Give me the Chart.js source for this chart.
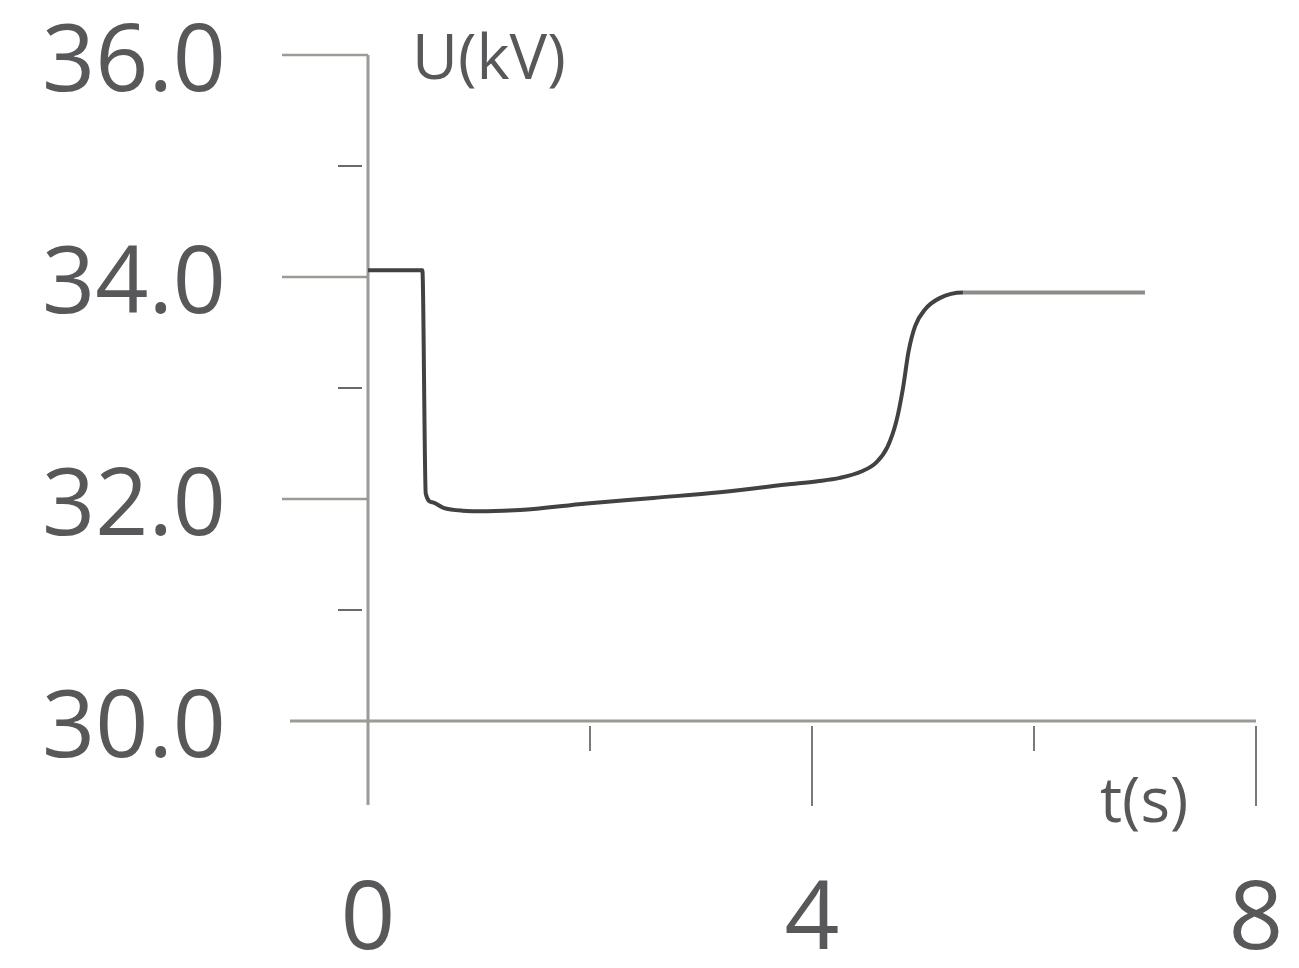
<!DOCTYPE html>
<html lang="en">
<head>
    <meta charset="UTF-8">
    <title>U(kV) vs t(s)</title>
    <script src="https://cdn.jsdelivr.net/npm/chart.js"></script>
    <style>
        html, body { margin: 0; padding: 0; background: #fff; }
        #wrap { width: 1299px; height: 968px; position: relative; }
    </style>
</head>
<body>
    <div id="wrap">
        <canvas id="voltageChart"></canvas>
    </div>

    <script>
        // Courbe : temps (s) et tension (kV)
        const timeValues = [0, 0.49, 0.52, 0.58, 0.68, 0.85, 1.07, 1.37, 1.97, 2.57, 3.17, 3.77,
            4.05, 4.25, 4.45, 4.58, 4.68, 4.76, 4.82, 4.87, 4.93, 5.02, 5.15, 5.36, 7.0];
        const voltageValues = [34.06, 34.06, 32.05, 31.97, 31.92, 31.895, 31.89, 31.90, 31.96, 32.01, 32.06, 32.13,
            32.16, 32.19, 32.25, 32.33, 32.47, 32.70, 33.00, 33.33, 33.56, 33.71, 33.81, 33.86, 33.86];

        // Graduations
        const yMajorTicks = [36, 34, 32];
        const yMinorTicks = [35, 33, 31];
        const xMajorTicks = [4, 8];
        const xMinorTicks = [2, 6];

        const axisColor = '#9a9b94';
        const textColor = '#58585a';
        const fontFamily = '"Open Sans", "Noto Sans", sans-serif';

        // axes, graduations et titres dessinés à la main (longueurs différentes)
        const axesPlugin = {
            id: 'axesPlugin',
            beforeDatasetsDraw(chart) {
                const ctx = chart.ctx;
                const xs = chart.scales.x;
                const ys = chart.scales.y;
                const x0 = xs.getPixelForValue(0);
                const y0 = ys.getPixelForValue(30);
                ctx.save();
                ctx.strokeStyle = axisColor;
                ctx.lineWidth = 3;
                // axe vertical
                ctx.beginPath();
                ctx.moveTo(x0, ys.getPixelForValue(36));
                ctx.lineTo(x0, y0 + 84);
                ctx.stroke();
                // axe horizontal
                ctx.beginPath();
                ctx.moveTo(x0 - 78, y0);
                ctx.lineTo(xs.getPixelForValue(8), y0);
                ctx.stroke();

                // graduations y
                ctx.lineWidth = 2.5;
                yMajorTicks.forEach(v => {
                    const y = ys.getPixelForValue(v);
                    ctx.beginPath();
                    ctx.moveTo(x0 - 86, y);
                    ctx.lineTo(x0, y);
                    ctx.stroke();
                });
                ctx.strokeStyle = '#6a6a66';
                ctx.lineWidth = 2;
                yMinorTicks.forEach(v => {
                    const y = ys.getPixelForValue(v);
                    ctx.beginPath();
                    ctx.moveTo(x0 - 30, y);
                    ctx.lineTo(x0 - 6, y);
                    ctx.stroke();
                });
                // graduations x
                ctx.strokeStyle = '#7a7a76';
                ctx.lineWidth = 2;
                xMinorTicks.forEach(v => {
                    const x = xs.getPixelForValue(v);
                    ctx.beginPath();
                    ctx.moveTo(x, y0 + 5);
                    ctx.lineTo(x, y0 + 30);
                    ctx.stroke();
                });
                xMajorTicks.forEach(v => {
                    const x = xs.getPixelForValue(v);
                    ctx.beginPath();
                    ctx.moveTo(x, y0 + 5);
                    ctx.lineTo(x, y0 + 85);
                    ctx.stroke();
                });

                // titres des axes
                ctx.fillStyle = textColor;
                ctx.textBaseline = 'alphabetic';
                ctx.textAlign = 'left';
                ctx.font = '63px ' + fontFamily;
                ctx.fillText('U(kV)', x0 + 44, 79);
                ctx.font = '62px ' + fontFamily;
                ctx.fillText('t(s)', 1100, 822);
                ctx.restore();
            }
        };

        const ctx = document.getElementById('voltageChart').getContext('2d');
        const chart = new Chart(ctx, {
            type: 'line',
            data: {
                datasets: [{
                    label: 'U',
                    data: timeValues.map((t, i) => ({ x: t, y: voltageValues[i] })),
                    borderColor: '#424242',
                    borderWidth: 4,
                    pointRadius: 0,
                    cubicInterpolationMode: 'monotone',
                    segment: {
                        borderColor: c => c.p0.parsed.x >= 5.36 ? '#8c8c88' : undefined
                    }
                }]
            },
            options: {
                responsive: true,
                maintainAspectRatio: false,
                animation: false,
                layout: { padding: { top: 55, right: 43, left: 0, bottom: 0 } },
                plugins: {
                    legend: { display: false },
                    tooltip: { enabled: false }
                },
                scales: {
                    x: {
                        type: 'linear',
                        min: 0,
                        max: 8,
                        grid: { display: false, drawTicks: false },
                        border: { display: false },
                        ticks: {
                            stepSize: 4,
                            padding: 143,
                            color: textColor,
                            font: { size: 96, family: fontFamily }
                        },
                        afterFit: s => { s.height = 247; s.paddingLeft = 0; s.paddingRight = 0; }
                    },
                    y: {
                        min: 30,
                        max: 36,
                        grid: { display: false, drawTicks: false },
                        border: { display: false },
                        ticks: {
                            stepSize: 2,
                            padding: 142,
                            labelOffset: 9,
                            color: textColor,
                            font: { size: 93, family: fontFamily },
                            callback: v => v.toFixed(1)
                        },
                        afterFit: s => { s.width = 368; s.paddingTop = 0; s.paddingBottom = 0; }
                    }
                }
            },
            plugins: [axesPlugin]
        });
    </script>
</body>
</html>
